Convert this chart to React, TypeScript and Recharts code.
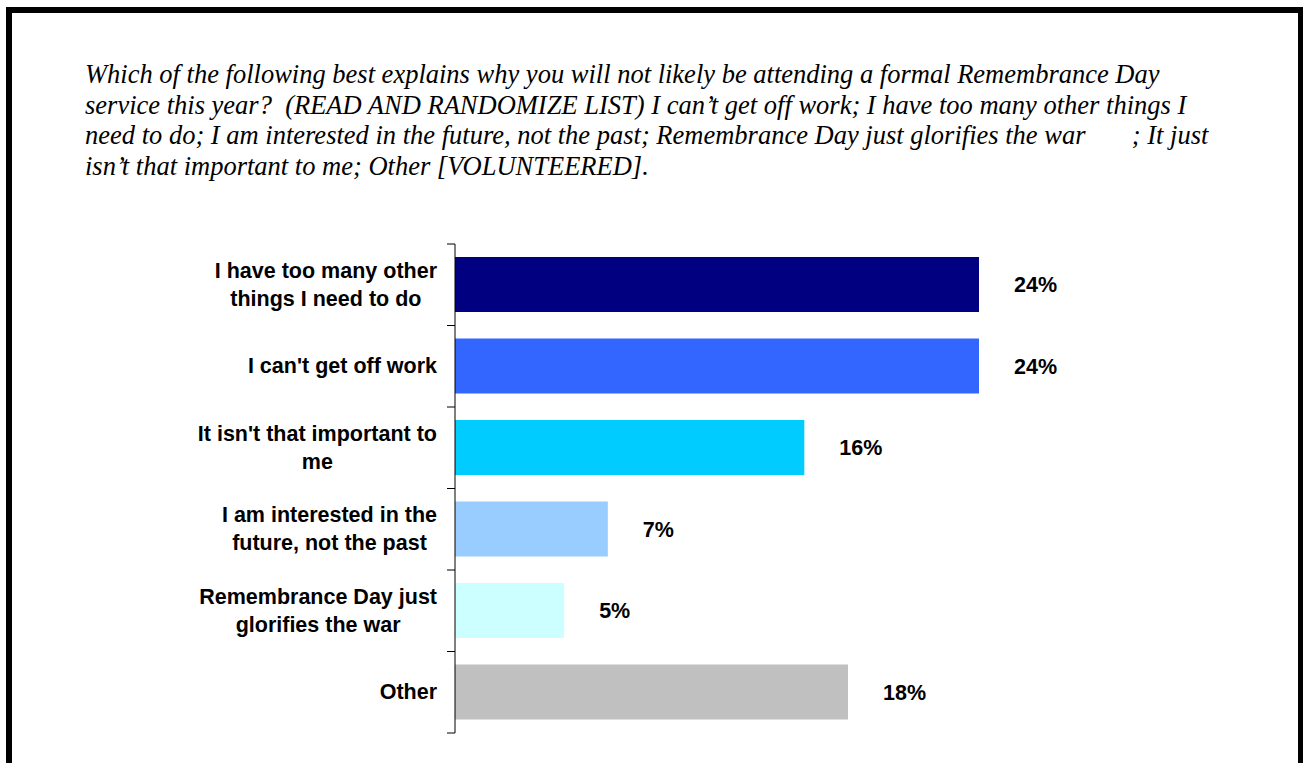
import { Bar, BarChart, Cell, LabelList, XAxis, YAxis } from 'recharts';

const CATEGORIES = [
  'I have too many other things I need to do',
  "I can't get off work",
  "It isn't that important to me",
  'I am interested in the future, not the past',
  'Remembrance Day just glorifies the war',
  'Other',
];

const VALUES = [24, 24, 16, 7, 5, 18];

const COLORS = ['#000080', '#3366ff', '#00ccff', '#99ccff', '#ccffff', '#c0c0c0'];

const TITLE_LINES = [
  'Which of the following best explains why you will not likely be attending a formal Remembrance Day',
  'service this year?  (READ AND RANDOMIZE LIST) I can\u2019t get off work; I have too many other things I',
  'need to do; I am interested in the future, not the past; Remembrance Day just glorifies the war       ; It just',
  'isn\u2019t that important to me; Other [VOLUNTEERED].',
];

const data = CATEGORIES.map((name, i) => ({ name, value: VALUES[i] }));

const PLOT_TOP = 14;
const PLOT_H = 489;
const AXIS_W = 455;
const LABEL_FONT = '"Liberation Sans", Arial, sans-serif';
const LABEL_SIZE = 21.5;

let ctx: CanvasRenderingContext2D | null = null;
function textWidth(s: string) {
  if (!ctx) ctx = document.createElement('canvas').getContext('2d');
  if (!ctx) return s.length * LABEL_SIZE * 0.55;
  ctx.font = `bold ${LABEL_SIZE}px ${LABEL_FONT}`;
  return ctx.measureText(s).width;
}

function wrap(text: string, max = 26) {
  const lines: string[] = [];
  let cur = '';
  for (const w of text.split(' ')) {
    const next = cur ? `${cur} ${w}` : w;
    if (next.length > max && cur) {
      lines.push(cur);
      cur = w;
    } else {
      cur = next;
    }
  }
  if (cur) lines.push(cur);
  return lines;
}

// labels are centred as a block, block right-aligned to the axis
function CategoryTick(props: any) {
  const { x, y, payload, index } = props;
  const band = PLOT_H / CATEGORIES.length;
  const lines = wrap(String(payload.value));
  const lh = 28;
  const startY = y - ((lines.length - 1) * lh) / 2;
  const axisX = x + 18;
  const maxW = Math.max(...lines.map(textWidth));
  const cx = x - maxW / 2;
  return (
    <g>
      <line x1={axisX - 8} x2={axisX} y1={y - band / 2} y2={y - band / 2} stroke="#000" />
      {index === CATEGORIES.length - 1 && (
        <line x1={axisX - 8} x2={axisX} y1={y + band / 2} y2={y + band / 2} stroke="#000" />
      )}
      <text
        x={cx}
        y={startY}
        textAnchor="middle"
        dominantBaseline="central"
        fontFamily={LABEL_FONT}
        fontWeight="bold"
        fontSize={LABEL_SIZE}
        fill="#000"
      >
        {lines.map((l, i) => (
          <tspan key={i} x={cx} y={startY + i * lh}>
            {l}
          </tspan>
        ))}
      </text>
    </g>
  );
}

export default function App() {
  return (
    <div
      style={{
        position: 'fixed',
        left: 0,
        top: 0,
        width: 1305,
        height: 763,
        overflow: 'hidden',
        background: '#fff',
      }}
    >
      <div
        style={{
          position: 'absolute',
          left: 6,
          top: 7,
          width: 1286,
          height: 820,
          border: '6px solid #000',
          borderRightWidth: 5,
        }}
      />
      <div
        style={{
          position: 'absolute',
          left: 85,
          top: 59,
          fontFamily: '"Liberation Serif", "Times New Roman", serif',
          fontStyle: 'italic',
          fontSize: 26.5,
          lineHeight: '30.7px',
          whiteSpace: 'pre',
          color: '#000',
        }}
      >
        {TITLE_LINES.map((l, i) => (
          <div key={i}>{l}</div>
        ))}
      </div>
      <div style={{ position: 'absolute', left: 0, top: 244 - PLOT_TOP }}>
        <BarChart
          width={1200}
          height={PLOT_TOP + PLOT_H + 20}
          data={data}
          layout="vertical"
          margin={{ top: PLOT_TOP, right: 90, bottom: 20, left: 0 }}
        >
          <XAxis type="number" domain={[0, 30]} hide />
          <YAxis
            type="category"
            dataKey="name"
            width={AXIS_W}
            interval={0}
            tickLine={false}
            tickSize={6}
            tickMargin={12}
            axisLine={{ stroke: '#000' }}
            tick={<CategoryTick />}
          />
          <Bar dataKey="value" barSize={55} isAnimationActive={false}>
            {data.map((d, i) => (
              <Cell key={d.name} fill={COLORS[i]} />
            ))}
            <LabelList
              dataKey="value"
              position="right"
              offset={35}
              formatter={(v: any) => `${v}%`}
              style={{
                fontFamily: LABEL_FONT,
                fontWeight: 'bold',
                fontSize: LABEL_SIZE,
                fill: '#000',
              }}
            />
          </Bar>
        </BarChart>
      </div>
    </div>
  );
}
